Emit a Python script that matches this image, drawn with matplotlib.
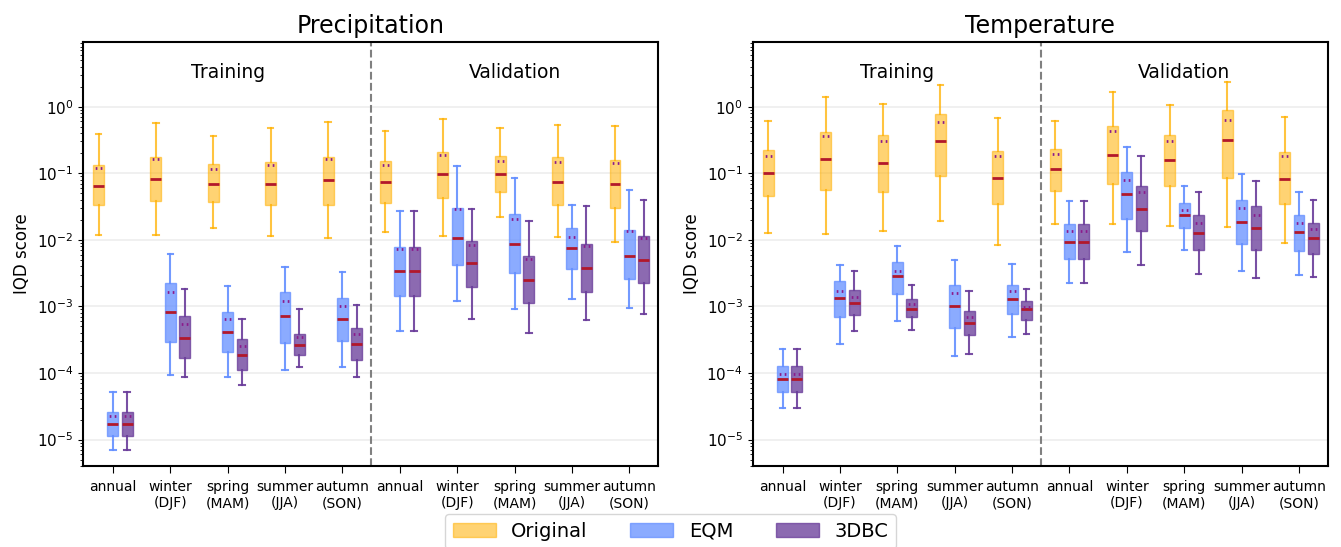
import matplotlib
matplotlib.use("Agg")
import matplotlib.pyplot as plt
from matplotlib.patches import Patch

# x tick labels (training block then validation block)
seasons = ["annual", "winter\n(DJF)", "spring\n(MAM)", "summer\n(JJA)", "autumn\n(SON)"]
tick_labels = seasons + seasons
methods = ["Original", "EQM", "3DBC"]
y_ticks = [1e-5, 1e-4, 1e-3, 1e-2, 1e-1, 1e0]

# each row: (whisker low, q1, median, mean, q3, whisker high)
pr_orig = [(0.012, 0.033, 0.065, 0.118, 0.131, 0.39),
           (0.012, 0.038, 0.082, 0.161, 0.177, 0.575),
           (0.0148, 0.037, 0.070, 0.117, 0.136, 0.362),
           (0.0114, 0.0336, 0.068, 0.134, 0.149, 0.478),
           (0.0106, 0.0336, 0.078, 0.161, 0.175, 0.588),
           (0.013, 0.036, 0.0745, 0.134, 0.152, 0.436),
           (0.0116, 0.0423, 0.096, 0.19, 0.21, 0.645),
           (0.0217, 0.052, 0.096, 0.154, 0.181, 0.478),
           (0.011, 0.0336, 0.0745, 0.149, 0.173, 0.53),
           (0.0093, 0.0299, 0.0695, 0.144, 0.16, 0.506)]
pr_eqm = [(7.0e-6, 1.12e-5, 1.71e-5, 2.23e-5, 2.62e-5, 5.2e-5),
          (9.2e-5, 2.92e-4, 8.2e-4, 1.65e-3, 2.25e-3, 6.1e-3),
          (8.7e-5, 2.07e-4, 4.1e-4, 6.4e-4, 8.1e-4, 2.0e-3),
          (1.1e-4, 2.83e-4, 7.1e-4, 1.21e-3, 1.65e-3, 3.9e-3),
          (1.22e-4, 3.03e-4, 6.4e-4, 1.02e-3, 1.34e-3, 3.3e-3),
          (4.3e-4, 1.42e-3, 3.4e-3, 7.2e-3, 7.85e-3, 0.027),
          (1.21e-3, 4.2e-3, 0.0107, 0.0289, 0.0299, 0.127),
          (9.1e-4, 3.2e-3, 8.7e-3, 0.0205, 0.0243, 0.084),
          (1.31e-3, 3.6e-3, 7.5e-3, 0.0111, 0.0152, 0.0336),
          (9.5e-4, 2.56e-3, 5.7e-3, 0.0137, 0.014, 0.0558)]
pr_dbc = [(7.0e-6, 1.12e-5, 1.71e-5, 2.23e-5, 2.62e-5, 5.2e-5),
          (8.6e-5, 1.68e-4, 3.36e-4, 5.5e-4, 7.1e-4, 1.81e-3),
          (6.5e-5, 1.11e-4, 1.89e-4, 2.5e-4, 3.25e-4, 6.4e-4),
          (1.22e-4, 1.87e-4, 2.6e-4, 3.5e-4, 3.9e-4, 9.0e-4),
          (8.6e-5, 1.59e-4, 2.7e-4, 3.8e-4, 4.8e-4, 1.04e-3),
          (4.3e-4, 1.42e-3, 3.4e-3, 7.2e-3, 7.85e-3, 0.027),
          (6.5e-4, 1.97e-3, 4.5e-3, 8.5e-3, 9.55e-3, 0.0289),
          (4.0e-4, 1.12e-3, 2.5e-3, 5.2e-3, 5.7e-3, 0.0193),
          (6.2e-4, 1.67e-3, 3.75e-3, 8.2e-3, 8.8e-3, 0.0321),
          (7.7e-4, 2.26e-3, 4.95e-3, 0.0105, 0.0114, 0.039)]

tas_orig = [(0.0125, 0.0454, 0.102, 0.181, 0.223, 0.616),
            (0.0122, 0.0558, 0.163, 0.362, 0.421, 1.41),
            (0.0138, 0.052, 0.142, 0.301, 0.375, 1.11),
            (0.0195, 0.0917, 0.301, 0.581, 0.767, 2.09),
            (0.0083, 0.034, 0.0836, 0.179, 0.216, 0.668),
            (0.0172, 0.0546, 0.117, 0.192, 0.234, 0.616),
            (0.0174, 0.0687, 0.19, 0.431, 0.512, 1.66),
            (0.0159, 0.0641, 0.156, 0.301, 0.375, 1.05),
            (0.0157, 0.0846, 0.315, 0.638, 0.881, 2.32),
            (0.009, 0.0344, 0.0817, 0.181, 0.21, 0.70)]
tas_eqm = [(3.0e-5, 5.2e-5, 8.0e-5, 9.8e-5, 1.27e-4, 2.3e-4),
           (2.73e-4, 6.95e-4, 1.34e-3, 1.71e-3, 2.39e-3, 4.2e-3),
           (6.05e-4, 1.52e-3, 2.87e-3, 3.38e-3, 4.67e-3, 8.1e-3),
           (1.78e-4, 4.75e-4, 1.02e-3, 1.58e-3, 2.08e-3, 5.0e-3),
           (3.5e-4, 7.6e-4, 1.27e-3, 1.69e-3, 2.08e-3, 4.3e-3),
           (2.26e-3, 5.2e-3, 9.4e-3, 0.0137, 0.0172, 0.0386),
           (6.6e-3, 0.0207, 0.0481, 0.078, 0.103, 0.247),
           (7.1e-3, 0.0148, 0.0235, 0.0276, 0.0356, 0.0641),
           (3.4e-3, 8.7e-3, 0.0187, 0.0299, 0.0395, 0.097),
           (3.0e-3, 6.8e-3, 0.0129, 0.018, 0.0232, 0.052)]
tas_dbc = [(3.0e-5, 5.2e-5, 8.0e-5, 9.8e-5, 1.27e-4, 2.3e-4),
           (4.33e-4, 7.36e-4, 1.13e-3, 1.39e-3, 1.77e-3, 3.38e-3),
           (4.43e-4, 6.87e-4, 9.2e-4, 1.07e-3, 1.31e-3, 2.13e-3),
           (1.93e-4, 3.73e-4, 5.65e-4, 7.0e-4, 8.56e-4, 1.73e-3),
           (3.9e-4, 6.2e-4, 9.1e-4, 9.8e-4, 1.22e-3, 1.85e-3),
           (2.26e-3, 5.2e-3, 9.4e-3, 0.0137, 0.0172, 0.0386),
           (4.2e-3, 0.0135, 0.0292, 0.052, 0.0641, 0.183),
           (3.1e-3, 7.0e-3, 0.0126, 0.0182, 0.0235, 0.0527),
           (2.65e-3, 7.1e-3, 0.015, 0.024, 0.0317, 0.0754),
           (2.8e-3, 6.2e-3, 0.0107, 0.0145, 0.0178, 0.0395)]

colors = ["#FFB000", "#648FFF", "#6A3D9A"]
fill_alpha = [0.55, 0.75, 0.77]
line_alpha = [0.75, 0.9, 0.9]
offsets = [-0.25, 0.0, 0.25]


def to_stats(rows):
    return [dict(whislo=r[0], q1=r[1], med=r[2], mean=r[3], q3=r[4], whishi=r[5], fliers=[])
            for r in rows]


def panel(ax, title, groups):
    for k, rows in enumerate(groups):
        pos = [i + offsets[k] for i in range(len(rows))]
        bp = ax.bxp(to_stats(rows), positions=pos, widths=0.19, patch_artist=True,
                    showmeans=True, meanline=True, showfliers=False, manage_ticks=False,
                    boxprops=dict(facecolor=colors[k], edgecolor=colors[k], linewidth=1),
                    whiskerprops=dict(color=colors[k], linewidth=1.5, alpha=line_alpha[k]),
                    capprops=dict(color=colors[k], linewidth=1.5, alpha=line_alpha[k]),
                    medianprops=dict(color="#B2182B", linewidth=2),
                    meanprops=dict(color="#8B1A8B", linewidth=2, linestyle=(1.0, (0.6, 1.2))))
        for b in bp["boxes"]:
            b.set_alpha(fill_alpha[k])
    ax.set_yscale("log")
    ax.set_yticks(y_ticks)
    ax.set_ylim(4e-6, 9.5)
    ax.set_xlim(-0.52, 9.5)
    ax.axvline(4.5, color="gray", linestyle="--", linewidth=1.5)
    ax.grid(axis="y", which="major", color="#eeeeee", linewidth=1.2)
    ax.set_axisbelow(True)
    ax.set_xticks(range(10))
    ax.set_xticklabels(tick_labels, fontsize=10)
    ax.tick_params(axis="x", length=5, pad=5)
    ax.tick_params(axis="y", labelsize=11)
    ax.text(2, 3.3, "Training", ha="center", va="center", fontsize=13.5)
    ax.text(7, 3.3, "Validation", ha="center", va="center", fontsize=13.5)
    ax.set_title(title, fontsize=17)
    ax.set_ylabel("IQD score", fontsize=12)
    for s in ax.spines.values():
        s.set_linewidth(1.5)


fig = plt.figure(figsize=(13.41, 5.47), dpi=100)
ax1 = fig.add_axes([0.0619, 0.148, 0.4288, 0.776])
ax2 = fig.add_axes([0.5613, 0.148, 0.4288, 0.776])

panel(ax1, "Precipitation", [pr_orig, pr_eqm, pr_dbc])
panel(ax2, "Temperature", [tas_orig, tas_eqm, tas_dbc])

handles = [Patch(facecolor=colors[k], edgecolor=colors[k], alpha=fill_alpha[k], label=methods[k])
           for k in range(3)]
fig.legend(handles=handles, loc="upper center", bbox_to_anchor=(0.5, 0.06), ncol=3,
           fontsize=14, handlelength=2.2, columnspacing=2.2, borderpad=0.4, borderaxespad=0)

fig.savefig("out.png", dpi=100)
